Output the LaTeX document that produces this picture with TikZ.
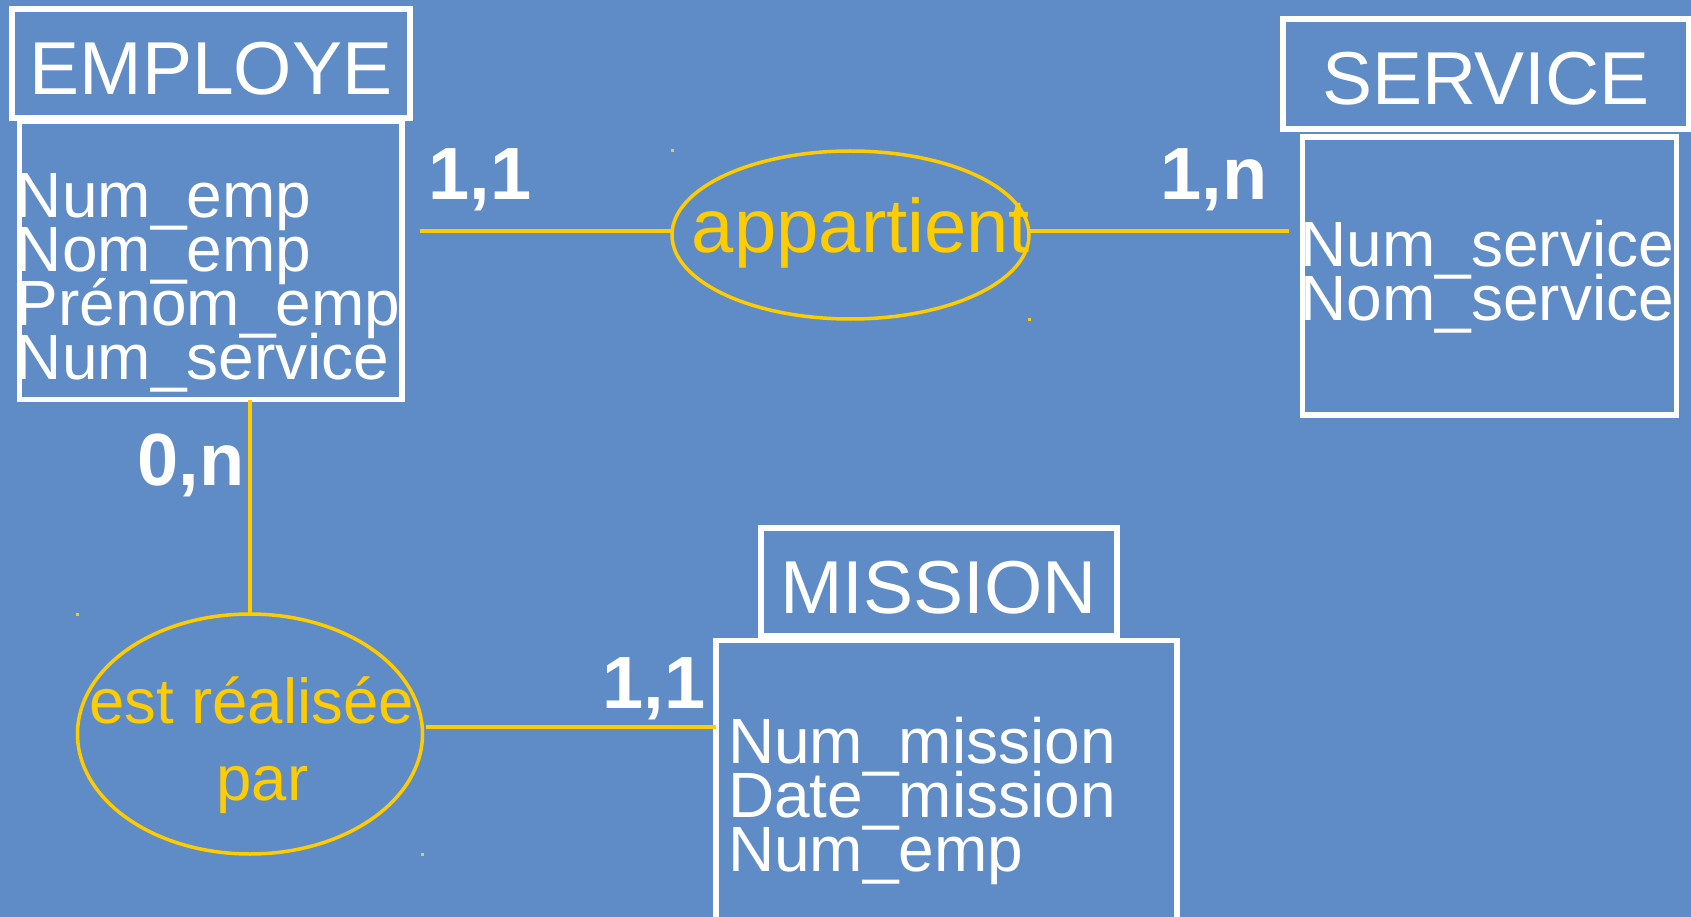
\documentclass[tikz,border=0pt]{standalone}
\usepackage{fontspec}
\setmainfont{Liberation Sans}
\usetikzlibrary{shapes.geometric}
\definecolor{bg}{RGB}{95,139,199}
\definecolor{relcol}{RGB}{255,204,0}
\newcommand{\ERattr}[1]{\vtop{\baselineskip=54pt\lineskiplimit=-\maxdimen\lineskip=0pt #1}}
\tikzset{
  ent/.style={draw=white, line width=6pt, inner sep=0pt, outer sep=0pt, text=white,
    font=\fontsize{75}{90}\selectfont, text height=62pt, text depth=0pt},
  attrbox/.style={draw=white, line width=5.5pt, inner sep=0pt, outer sep=0pt},
  attrtext/.style={text=white, inner sep=0pt, outer sep=0pt, anchor=base west,
    font=\fontsize{64}{54}\selectfont},
  rel/.style={ellipse, draw=relcol, line width=3.5pt, inner sep=0pt, outer sep=0pt},
  reltext/.style={text=relcol, inner sep=0pt, outer sep=0pt, anchor=base},
  card/.style={text=white, font=\fontsize{74}{90}\selectfont\bfseries, inner sep=0pt,
    outer sep=0pt, anchor=base west},
  link/.style={draw=relcol, line width=4pt},
  dot/.style={fill=relcol}
}
\begin{document}
\begin{tikzpicture}[x=1pt, y=-1pt]
\useasboundingbox (0,0) rectangle (1691,917);
\clip (0,0) rectangle (1691,917);
\fill[bg] (0,0) rectangle (1691,917);

% EMPLOYE
\node[attrbox, minimum width=382.5pt, minimum height=278.5pt] (emp) at (210.75,260.25) {};
\node[ent, minimum width=398pt, minimum height=109pt] (empH) at (211,63.5) {EMPLOYE};
\node[attrtext] (empA) at (16,218) {\ERattr{\hbox{Num\_emp}\hbox{Nom\_emp}\hbox{Prénom\_emp}\hbox{Num\_service}}};

% SERVICE
\node[attrbox, minimum width=374pt, minimum height=278pt] (srv) at (1489.5,276) {};
\node[ent, minimum width=406pt, minimum height=110pt] (srvH) at (1486,74) {SERVICE};
\node[attrtext] (srvA) at (1300.7,266.7) {\ERattr{\hbox{Num\_service}\hbox{Nom\_service}}};

% MISSION
\node[attrbox, minimum width=461pt, minimum height=300pt] (mis) at (946.5,790.5) {};
\node[ent, minimum width=355.5pt, minimum height=108pt] (misH) at (938.75,582) {MISSION};
\node[attrtext] (misA) at (728,763) {\ERattr{\hbox{Num\_mission}\hbox{Date\_mission}\hbox{Num\_emp}}};

% relations
\node[rel, minimum width=357pt, minimum height=168pt] (app) at (850.5,235) {};
\node[reltext, font=\fontsize{76}{90}\selectfont] (appT) at (861,253) {appartient};
\node[rel, minimum width=345pt, minimum height=240pt] (rea) at (250,734) {};
\node[reltext, font=\fontsize{63.5}{76}\selectfont] (reaT1) at (251.4,723.3) {est réalisée};
\node[reltext, font=\fontsize{63.5}{76}\selectfont] (reaT2) at (262.3,800.7) {par};

% cardinalities
\node[card] (c1) at (428.6,200) {1,1};
\node[card] (c2) at (1160.6,200) {1,n};
\node[card] (c3) at (137.5,485) {0,n};
\node[card] (c4) at (602.5,708) {1,1};

% connectors
\coordinate (appW) at ([yshift=4pt]app.west);
\coordinate (appE) at ([yshift=4pt]app.east);
\coordinate (reaE) at ([yshift=7pt]rea.east);
\draw[link, shorten <=18pt] (emp.east |- appW) -- (appW);
\draw[link, shorten >=13.5pt] (appE) -- (appE -| srv.west);
\draw[link] (rea.north |- emp.south) -- (rea.north);
\draw[link, shorten <=3.5pt] (reaE) -- (reaE -| mis.west);

% small marks
\fill[dot] (app.west |- app.north) ++(-1.5,-1.5) rectangle ++(3,3);
\fill[dot] (app.east |- app.south) ++(-1.5,-1.5) rectangle ++(3,3);
\fill[dot] (rea.west |- rea.north) ++(-1.5,-1.5) rectangle ++(3,3);
\fill[dot] (rea.east |- rea.south) ++(-1.5,-1.5) rectangle ++(3,3);
\end{tikzpicture}
\end{document}
